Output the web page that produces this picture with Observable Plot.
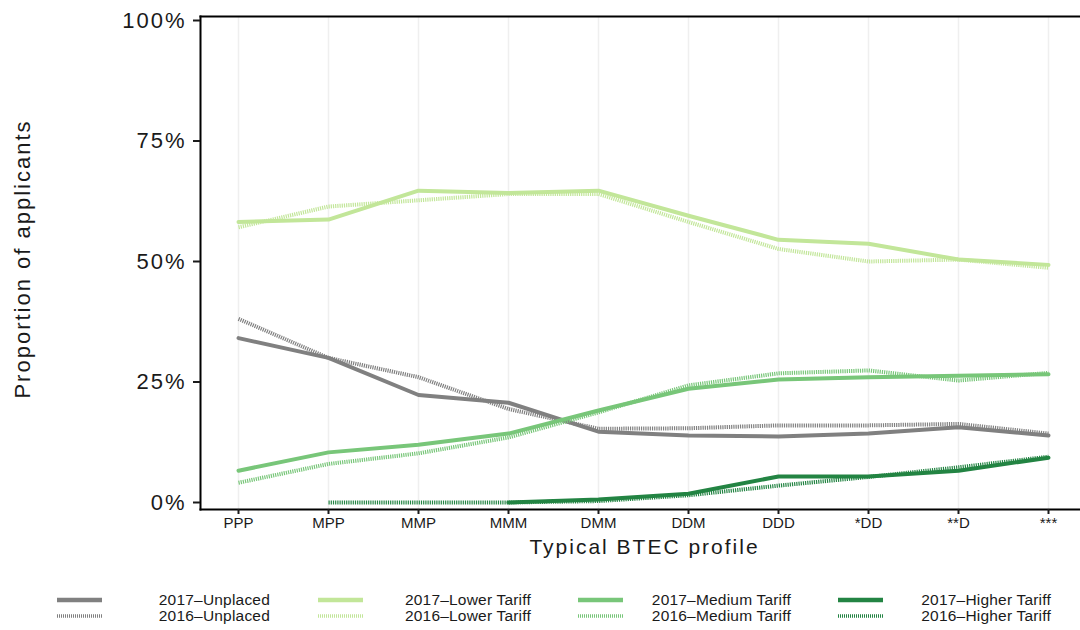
<!DOCTYPE html>
<html>
<head>
<meta charset="utf-8">
<script src="https://cdn.jsdelivr.net/npm/d3@7"></script>
<script src="https://cdn.jsdelivr.net/npm/@observablehq/plot@0.6"></script>
<style>
  html, body { margin: 0; padding: 0; background: #fff; }
  body { width: 1080px; height: 630px; overflow: hidden; font-family: "Liberation Sans", Arial, sans-serif; color: #1a1a1a; }
  #legend { position: relative; width: 1080px; height: 55px; }
  .lg-sw { position: absolute; width: 45px; height: 6px; }
  .lg-tx { position: absolute; font-size: 15.5px; line-height: 16px; white-space: nowrap; text-align: right; letter-spacing: 0.2px; }
</style>
</head>
<body>
<div id="chart"></div>
<div id="legend"></div>
<script>
const profiles = ["PPP", "MPP", "MMP", "MMM", "DMM", "DDM", "DDD", "*DD", "**D", "***"];
const yTicks = [0, 25, 50, 75, 100];

const unplaced2017 = [34.1, 30.0, 22.3, 20.7, 14.7, 13.9, 13.7, 14.3, 15.6, 13.9];
const unplaced2016 = [38.1, 30.0, 26.0, 19.4, 15.3, 15.4, 16.0, 16.0, 16.3, 14.3];
const lower2017    = [58.2, 58.7, 64.7, 64.2, 64.7, 59.5, 54.5, 53.7, 50.4, 49.3];
const lower2016    = [57.1, 61.4, 62.7, 64.0, 64.0, 58.2, 52.6, 50.0, 50.4, 48.7];
const medium2017   = [6.6, 10.4, 12.0, 14.3, 19.1, 23.6, 25.5, 26.0, 26.3, 26.6];
const medium2016   = [4.1, 8.0, 10.2, 13.5, 18.7, 24.3, 26.8, 27.4, 25.3, 26.9];
const higher2017   = [null, null, null, 0.0, 0.6, 1.8, 5.4, 5.4, 6.6, 9.3];
const higher2016   = [null, 0.0, 0.0, 0.0, 0.3, 1.5, 3.5, 5.3, 7.3, 9.5];

const seriesList = [
  {name: "2017\u2013Unplaced", values: unplaced2017, color: "#808080", dotted: false},
  {name: "2016\u2013Unplaced", values: unplaced2016, color: "#808080", dotted: true},
  {name: "2017\u2013Lower Tariff", values: lower2017, color: "#c2e699", dotted: false},
  {name: "2016\u2013Lower Tariff", values: lower2016, color: "#c2e699", dotted: true},
  {name: "2017\u2013Medium Tariff", values: medium2017, color: "#78c679", dotted: false},
  {name: "2016\u2013Medium Tariff", values: medium2016, color: "#78c679", dotted: true},
  {name: "2017\u2013Higher Tariff", values: higher2017, color: "#238443", dotted: false},
  {name: "2016\u2013Higher Tariff", values: higher2016, color: "#238443", dotted: true}
];

const rows = [];
seriesList.forEach((s, si) => {
  s.values.forEach((v, i) => rows.push({series: s.name, si, profile: profiles[i], value: v}));
});

const lineMarks = seriesList.map(s =>
  Plot.line(rows.filter(r => r.series === s.name), {
    x: "profile", y: "value",
    stroke: s.color, strokeWidth: 4,
    strokeDasharray: s.dotted ? "1.2,1" : null,
    strokeLinejoin: "round", strokeLinecap: s.dotted ? "butt" : "round"
  })
);

const chart = Plot.plot({
  width: 1080,
  height: 575,
  marginLeft: 200,
  marginRight: 0,
  marginTop: 16,
  marginBottom: 66,
  style: {fontFamily: "Liberation Sans, Arial, sans-serif", color: "#1a1a1a", background: "#fff"},
  x: {type: "point", domain: profiles, range: [235, 1051], padding: 0},
  y: {domain: [0, 100], range: [502, 20]},
  marks: [
    Plot.ruleX(profiles, {stroke: "#efefef", strokeWidth: 1.5}),
    ...lineMarks,
    Plot.frame({anchor: "bottom", stroke: "#000", strokeWidth: 2}),
    Plot.frame({anchor: "left", stroke: "#000", strokeWidth: 2}),
    Plot.frame({anchor: "top", stroke: "#000", strokeWidth: 2}),
    Plot.axisX({tickSize: 5, tickPadding: 3, fontSize: 15, strokeWidth: 2, label: null}),
    Plot.axisY({ticks: yTicks, tickFormat: d => d + "%", tickSize: 7, tickPadding: 7, fontSize: 22, strokeWidth: 2, label: null}),
    Plot.text(["Typical BTEC profile"], {frameAnchor: "bottom", dx: 4, dy: 44, fontSize: 21, fill: "#1a1a1a"}),
    Plot.text(["Proportion of applicants"], {frameAnchor: "left", textAnchor: "middle", rotate: -90, dx: -178, dy: -4, fontSize: 22, fill: "#1a1a1a"})
  ]
});
document.getElementById("chart").appendChild(chart);

// wider letter spacing like the reference's large text
d3.select(chart).selectAll('g[aria-label="y-axis tick label"] text').style("letter-spacing", "2px");
d3.select(chart).selectAll('g[aria-label="text"] text').style("letter-spacing", "2px");

// Legend
const legend = document.getElementById("legend");
const colX = [57, 318, 578, 838];
const rowY = [25, 41];
seriesList.forEach((s, i) => {
  const col = Math.floor(i / 2), row = i % 2;
  const sw = document.createElementNS("http://www.w3.org/2000/svg", "svg");
  sw.setAttribute("class", "lg-sw");
  sw.setAttribute("width", 45); sw.setAttribute("height", 6);
  sw.style.left = colX[col] + "px";
  sw.style.top = (rowY[row] - 3) + "px";
  const ln = document.createElementNS("http://www.w3.org/2000/svg", "line");
  ln.setAttribute("x1", 0); ln.setAttribute("x2", 45);
  ln.setAttribute("y1", 3); ln.setAttribute("y2", 3);
  ln.setAttribute("stroke", s.color);
  ln.setAttribute("stroke-width", s.dotted ? 3.5 : 4.5);
  if (s.dotted) ln.setAttribute("stroke-dasharray", "1,1");
  sw.appendChild(ln);
  legend.appendChild(sw);
  const tx = document.createElement("div");
  tx.className = "lg-tx";
  tx.textContent = s.name;
  tx.style.right = (1080 - (colX[col] + 213)) + "px";
  tx.style.top = (rowY[row] - 8) + "px";
  legend.appendChild(tx);
});
</script>
</body>
</html>
